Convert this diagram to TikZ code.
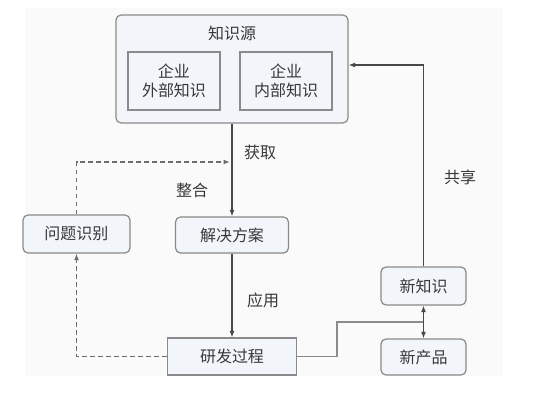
\documentclass[tikz,border=0pt]{standalone}
\usepackage{fontspec}
\newfontfamily\cjk{Noto Sans CJK SC}
\usetikzlibrary{arrows.meta}
\definecolor{boxline}{HTML}{8A8A8A}
\definecolor{boxfill}{HTML}{F2F6FB}
\definecolor{ink}{HTML}{383838}
\definecolor{wire}{HTML}{484848}

\begin{document}
\begin{tikzpicture}[x=1pt, y=-1pt,
	every node/.style={font=\cjk\fontsize{16}{18.5}\selectfont, text=ink, inner sep=0pt, align=center},
	card/.style={draw=boxline, fill=boxfill, line width=1.2pt, rounded corners=5pt},
	plain/.style={draw=boxline, fill=boxfill, line width=1.2pt},
	flow/.style={draw=wire, line width=1.6pt, -{Latex[length=6.5pt,width=5pt]}},
	hint/.style={draw=wire!80, line width=1.8pt, dash pattern=on 4.5pt off 3.5pt, -{Latex[length=6.5pt,width=5pt]}}]
	\useasboundingbox (0,0) rectangle (550,404);
	\fill[black!2] (25,8) rectangle (503,376);

	% knowledge source
	\node[card, minimum width=232pt, minimum height=108pt] (src) at (232,69) {};
	\node (title) at (232,33) {知识源};
	\node[plain, minimum width=92pt, minimum height=58pt] (ext) at (174,81) {企业\\外部知识};
	\node[plain, minimum width=92pt, minimum height=58pt] (int) at (286,81) {企业\\内部知识};

	% process boxes
	\node[card, minimum width=107pt, minimum height=38pt] (issue) at (76.5,234) {问题识别};
	\node[card, minimum width=113pt, minimum height=36pt] (plan) at (232,235) {解决方案};
	\node[plain, minimum width=129pt, minimum height=37pt] (rnd) at (232,356.5) {研发过程};
	\node[card, minimum width=85pt, minimum height=38pt] (newk) at (423.5,286) {新知识};
	\node[card, minimum width=85pt, minimum height=36pt] (newp) at (423.5,357) {新产品};

	\coordinate (merge) at (230,162);
	\coordinate (join) at (423.5,322);

	\draw[flow] (src.south) -- (plan.north);
	\draw[flow] (plan.south) -- (rnd.north);
	\draw[hint] (issue.north) |- (merge);
	\draw[hint] (rnd.west) -| (issue.south);
	\draw[draw=boxline, line width=1.1pt] (rnd.east) -- (337,356.5) -- (337,322) -- (join);
	\draw[flow, {Latex[length=6.5pt,width=5pt]}-{Latex[length=6.5pt,width=5pt]}] (newk.south) -- (newp.north);
	\draw[flow] (newk.north) |- ([yshift=4pt]src.east);

	% labels
	\node (get) at (260,152) {获取};
	\node (fuse) at (192,190) {整合};
	\node (use) at (263,300) {应用};
	\node (share) at (460,177) {共享};
\end{tikzpicture}
\end{document}
